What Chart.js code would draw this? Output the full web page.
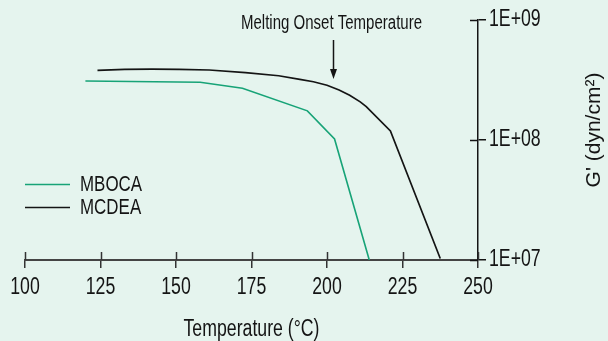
<!DOCTYPE html>
<html>
<head>
<meta charset="utf-8">
<script src="https://cdn.jsdelivr.net/npm/chart.js@4.4.1/dist/chart.umd.min.js"></script>
<style>
  html, body { margin: 0; padding: 0; background: #e5f4ee; }
  #wrap { width: 608px; height: 341px; }
</style>
</head>
<body>
<div id="wrap"><canvas id="c" width="608" height="341"></canvas></div>
<script>
// Storage modulus G' versus temperature for two curatives
const SERIES_NAMES = ['MBOCA', 'MCDEA'];

const MBOCA_TEMP = [120, 158, 172, 193.5, 202.5, 214];
const MBOCA_G    = [3.1e8, 3.03e8, 2.7e8, 1.75e8, 1.02e8, 1.0e7];

const MCDEA_TEMP = [124, 133, 142, 151, 161, 173, 184, 191, 195.5, 200, 204, 207.5, 211, 213, 221, 237.5];
const MCDEA_G    = [3.8e8, 3.88e8, 3.9e8, 3.88e8, 3.83e8, 3.64e8, 3.43e8, 3.2e8, 3.06e8, 2.86e8, 2.61e8, 2.36e8, 2.08e8, 1.9e8, 1.19e8, 1.03e7];

const X_TICKS = [100, 125, 150, 175, 200, 225, 250];
const Y_TICKS = [1e7, 1e8, 1e9];
const Y_TICK_LABELS = ['1E+07', '1E+08', '1E+09'];

const ONSET_LABEL = 'Melting Onset Temperature';
const ONSET_TEMP = 202;

const X_TITLE = 'Temperature (°C)';
const Y_TITLE = "G' (dyn/cm²)";

const FONT = "'Liberation Sans', Arial, Helvetica, sans-serif";
const INK = '#141414';
const GREEN = '#17a377';

// Condensed lettering: text is squeezed horizontally around its anchor point
const SQUEEZE = 0.77;
const canvas = document.getElementById('c');
const ctx2d = canvas.getContext('2d');
const rawFillText = ctx2d.fillText.bind(ctx2d);
const rawMeasureText = ctx2d.measureText.bind(ctx2d);
ctx2d.fillText = function (text, x, y) {
  this.save();
  this.translate(x, y);
  this.scale(SQUEEZE, 1);
  rawFillText(text, 0, 0);
  this.restore();
};
ctx2d.measureText = function (text) {
  const m = rawMeasureText(text);
  return {
    width: m.width * SQUEEZE,
    actualBoundingBoxAscent: m.actualBoundingBoxAscent,
    actualBoundingBoxDescent: m.actualBoundingBoxDescent,
    actualBoundingBoxLeft: m.actualBoundingBoxLeft * SQUEEZE,
    actualBoundingBoxRight: m.actualBoundingBoxRight * SQUEEZE
  };
};

const toPoints = (xs, ys) => xs.map((x, i) => ({ x: x, y: ys[i] }));

// Page background
const bgPlugin = {
  id: 'bg',
  beforeDraw(chart) {
    const ctx = chart.ctx;
    ctx.save();
    ctx.fillStyle = '#e5f4ee';
    ctx.fillRect(0, 0, chart.width, chart.height);
    ctx.restore();
  }
};

// Tick marks also reach inward so they cross the axis lines
const crossTicks = {
  id: 'crossTicks',
  afterDraw(chart) {
    const { ctx, scales: { x, y } } = chart;
    const len = 8;
    ctx.save();
    ctx.lineWidth = 1.5;
    ctx.strokeStyle = '#333';
    x.ticks.forEach(t => {
      const px = Math.round(x.getPixelForValue(t.value)) + 0.5;
      ctx.beginPath();
      ctx.moveTo(px, x.top);
      ctx.lineTo(px, x.top - len);
      ctx.stroke();
    });
    ctx.strokeStyle = INK;
    y.ticks.forEach(t => {
      const py = Math.round(y.getPixelForValue(t.value)) + 0.5;
      ctx.beginPath();
      ctx.moveTo(y.left, py);
      ctx.lineTo(y.left - len, py);
      ctx.stroke();
    });
    ctx.restore();
  }
};

// Legend drawn inside the plot, lower left
const insideLegend = {
  id: 'insideLegend',
  afterDraw(chart) {
    const ctx = chart.ctx;
    const left = chart.chartArea.left;
    const top = 184;
    const rowH = 23;
    ctx.save();
    ctx.font = '22px ' + FONT;
    ctx.textBaseline = 'middle';
    ctx.textAlign = 'left';
    chart.data.datasets.forEach((ds, i) => {
      const yy = top + i * rowH;
      ctx.strokeStyle = ds.borderColor;
      ctx.lineWidth = 1.5;
      ctx.beginPath();
      ctx.moveTo(left, yy + 0.5);
      ctx.lineTo(left + 45, yy + 0.5);
      ctx.stroke();
      ctx.fillStyle = INK;
      ctx.fillText(ds.label, left + 55, yy + 1);
    });
    ctx.restore();
  }
};

// Callout for melting onset plus the rotated G' title on the right
const callouts = {
  id: 'callouts',
  afterDraw(chart) {
    const { ctx, scales: { x, y } } = chart;
    const ax = Math.round(x.getPixelForValue(ONSET_TEMP)) + 0.5;
    ctx.save();
    ctx.fillStyle = INK;
    ctx.strokeStyle = INK;
    ctx.font = '19.5px ' + FONT;
    ctx.textAlign = 'center';
    ctx.textBaseline = 'middle';
    ctx.fillText(ONSET_LABEL, ax - 2, 24);
    const y0 = 40, tip = 79;
    ctx.lineWidth = 1.5;
    ctx.beginPath();
    ctx.moveTo(ax, y0);
    ctx.lineTo(ax, tip - 8);
    ctx.stroke();
    ctx.beginPath();
    ctx.moveTo(ax - 3.5, tip - 10);
    ctx.lineTo(ax + 3.5, tip - 10);
    ctx.lineTo(ax, tip);
    ctx.closePath();
    ctx.fill();

    ctx.translate(594, (y.top + y.bottom) / 2 - 10);
    ctx.rotate(-Math.PI / 2);
    ctx.font = '21px ' + FONT;
    rawFillText(Y_TITLE, 0, 0);
    ctx.restore();
  }
};

new Chart(canvas, {
  type: 'line',
  data: {
    datasets: [
      {
        label: SERIES_NAMES[0],
        data: toPoints(MBOCA_TEMP, MBOCA_G),
        borderColor: GREEN,
        borderWidth: 1.6,
        pointRadius: 0,
        tension: 0,
        fill: false
      },
      {
        label: SERIES_NAMES[1],
        data: toPoints(MCDEA_TEMP, MCDEA_G),
        borderColor: INK,
        borderWidth: 1.7,
        pointRadius: 0,
        tension: 0,
        fill: false
      }
    ]
  },
  options: {
    responsive: false,
    animation: false,
    devicePixelRatio: 1,
    layout: { padding: { top: 20, left: 25, right: 0, bottom: 0 } },
    plugins: { legend: { display: false }, tooltip: { enabled: false } },
    scales: {
      x: {
        type: 'linear',
        min: 100,
        max: 250,
        afterBuildTicks: s => { s.ticks = X_TICKS.map(v => ({ value: v })); },
        afterFit: s => { s.height = 81; },
        grid: { drawOnChartArea: false, drawTicks: true, tickLength: 8, color: '#333', lineWidth: 1.5 },
        border: { display: true, color: '#444', width: 2 },
        ticks: { font: { family: FONT, size: 23 }, color: INK, padding: 6, maxRotation: 0, autoSkip: false },
        title: { display: true, text: X_TITLE, color: INK, font: { family: FONT, size: 23, lineHeight: 1 }, padding: { top: 0, bottom: 0 } }
      },
      y: {
        type: 'logarithmic',
        position: 'right',
        min: 1e7,
        max: 1e9,
        afterBuildTicks: s => { s.ticks = Y_TICKS.map(v => ({ value: v })); },
        afterFit: s => { s.width = 130; },
        grid: { drawOnChartArea: false, drawTicks: true, tickLength: 8, color: INK, lineWidth: 1.5 },
        border: { display: true, color: INK, width: 1.5 },
        ticks: {
          font: { family: FONT, size: 23 },
          color: INK,
          padding: 3,
          callback: (v, i) => Y_TICK_LABELS[i]
        }
      }
    }
  },
  plugins: [bgPlugin, crossTicks, insideLegend, callouts]
});
</script>
</body>
</html>
